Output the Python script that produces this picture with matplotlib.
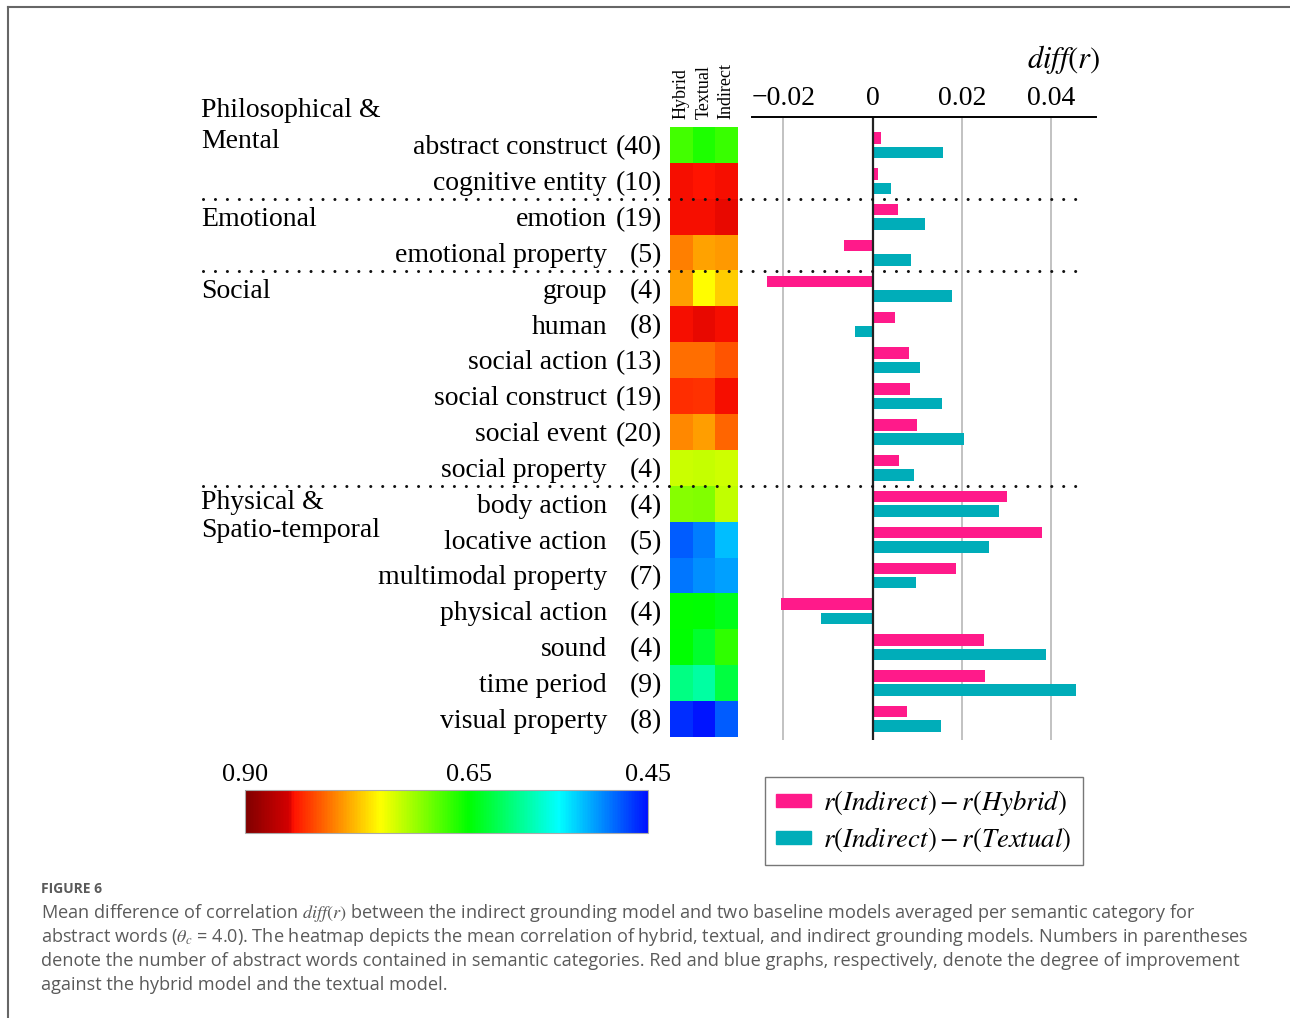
import matplotlib
matplotlib.use("Agg")
import matplotlib.pyplot as plt
import numpy as np
from matplotlib.colors import LinearSegmentedColormap, Normalize
from matplotlib.cm import ScalarMappable
from matplotlib.lines import Line2D
from matplotlib.patches import Patch
from matplotlib.transforms import blended_transform_factory

plt.rcParams['font.family'] = ['Liberation Serif', 'DejaVu Serif']
plt.rcParams['mathtext.fontset'] = 'stix'

# semantic categories (top to bottom) and word counts
categories = ["abstract construct", "cognitive entity", "emotion", "emotional property",
              "group", "human", "social action", "social construct", "social event",
              "social property", "body action", "locative action", "multimodal property",
              "physical action", "sound", "time period", "visual property"]
counts = [40, 10, 19, 5, 4, 8, 13, 19, 20, 4, 4, 5, 7, 4, 4, 9, 8]

# mean correlation per model
models = ["Hybrid", "Textual", "Indirect"]
r_hybrid = [0.676, 0.846, 0.847, 0.801, 0.788, 0.847, 0.808, 0.834, 0.798,
            0.728, 0.703, 0.483, 0.493, 0.652, 0.650, 0.599, 0.463]
r_textual = [0.661, 0.845, 0.846, 0.786, 0.749, 0.8475, 0.808, 0.832, 0.788,
             0.727, 0.700, 0.496, 0.503, 0.650, 0.632, 0.587, 0.453]
r_indirect = [0.672, 0.847, 0.849, 0.790, 0.769, 0.846, 0.818, 0.846, 0.811,
              0.731, 0.725, 0.523, 0.510, 0.640, 0.669, 0.625, 0.483]

# diff(r) of the indirect model against each baseline
diff_hybrid = [0.0019, 0.0013, 0.0057, -0.0063, -0.0236, 0.0051, 0.0082, 0.0083, 0.0100,
               0.0059, 0.0300, 0.0380, 0.0186, -0.0204, 0.0249, 0.0252, 0.0077]
diff_textual = [0.0157, 0.0042, 0.0118, 0.0086, 0.0177, -0.0039, 0.0106, 0.0155, 0.0204,
                0.0093, 0.0283, 0.0260, 0.0098, -0.0115, 0.0388, 0.0456, 0.0153]

# group name lines and the row each line sits next to (fractional rows)
group_lines = ["Philosophical &", "Mental", "Emotional", "Social", "Physical &", "Spatio-temporal"]
group_rows = [-0.98, -0.1, 2.07, 4.07, 9.97, 10.75]
separators = [1.5, 3.5, 9.5]

diff_ticks = [-0.02, 0.0, 0.02, 0.04]
cbar_ticks = [0.90, 0.65, 0.45]

PINK = "#ff1a8a"
TEAL = "#00adb9"

W, H = 1290, 1018
fig = plt.figure(figsize=(W / 100, H / 100), dpi=100)


def box(x0, y0, x1, y1):
    return [x0 / W, 1 - y1 / H, (x1 - x0) / W, (y1 - y0) / H]


# jet-like scale, dark red segment for the highest correlations
cmap = LinearSegmentedColormap.from_list("corr", [
    (0.000, "#0010ff"), (0.220, "#00ffff"), (0.445, "#00ff00"), (0.665, "#ffff00"),
    (0.880, "#ff1200"), (0.892, "#d40000"), (1.000, "#800000")])
norm = Normalize(vmin=0.45, vmax=0.90)

# heatmap
hy0, hy1 = 127.3, 736.8
ax_heat = fig.add_axes(box(670, hy0, 737.5, hy1))
heat = np.array([r_hybrid, r_textual, r_indirect]).T
ax_heat.imshow(heat, cmap=cmap, norm=norm, aspect="auto", interpolation="nearest")
ax_heat.set_axis_off()
for j, m in enumerate(models):
    ax_heat.text(j, -0.72, m, rotation=90, ha="center", va="bottom", fontsize=13)

row_h = (hy1 - hy0) / len(categories)
rows = np.arange(len(categories))
mix = blended_transform_factory(fig.transFigure, ax_heat.transData)

for i, (name, n) in enumerate(zip(categories, counts)):
    fig.text(607 / W, i + 0.07, name, transform=mix, ha="right", va="center", fontsize=20)
    fig.text(662 / W, i + 0.07, f"({n})", transform=mix, ha="right", va="center", fontsize=20)
for line, r in zip(group_lines, group_rows):
    fig.text(201 / W, r, line, transform=mix, ha="left", va="center", fontsize=20)
for s in separators:
    fig.add_artist(Line2D([203 / W, 1079 / W], [s, s], transform=mix, color="#111111",
                          lw=2.2, linestyle=(0, (0.01, 3.9)), dash_capstyle="round"))

# diff(r) bars
by0, by1 = 117, 740
ax_bar = fig.add_axes(box(752, by0, 1096, by1))
ax_bar.barh(rows - 0.2, diff_hybrid, height=0.32, color=PINK)
ax_bar.barh(rows + 0.2, diff_textual, height=0.32, color=TEAL)
ax_bar.set_xlim(-0.027, 0.050)
ax_bar.set_ylim((by1 - hy0) / row_h - 0.5, (by0 - hy0) / row_h - 0.5)
ax_bar.set_xticks(diff_ticks)
ax_bar.set_xticklabels(["0" if t == 0 else f"{t:.2f}".replace("-", "\u2212") for t in diff_ticks])
ax_bar.xaxis.tick_top()
ax_bar.tick_params(axis="x", length=0, pad=4, labelsize=20)
ax_bar.set_yticks([])
ax_bar.grid(axis="x", color="#bdbdbd", lw=1.3)
ax_bar.set_axisbelow(True)
ax_bar.axvline(0, color="#222222", lw=1.6)
for side in ["left", "right", "bottom"]:
    ax_bar.spines[side].set_visible(False)
ax_bar.spines["top"].set_linewidth(1.4)
fig.text(1100 / W, 1 - 60 / H, r"$\mathit{diff}(r)$", ha="right", va="center", fontsize=22)

# colour scale
cax = fig.add_axes(box(245, 790, 648, 833))
cb = fig.colorbar(ScalarMappable(norm=norm, cmap=cmap), cax=cax, orientation="horizontal")
cax.invert_xaxis()
cax.xaxis.set_ticks_position("top")
cb.set_ticks(cbar_ticks)
cb.set_ticklabels([f"{t:.2f}" for t in cbar_ticks])
cax.tick_params(length=0, pad=3, labelsize=19)
cb.outline.set_edgecolor("#aaaaaa")
cb.outline.set_linewidth(0.8)

# legend
handles = [Patch(color=PINK), Patch(color=TEAL)]
labels = [r"$r(\mathit{Indirect}) - r(\mathit{Hybrid})$",
          r"$r(\mathit{Indirect}) - r(\mathit{Textual})$"]
leg = fig.legend(handles, labels, loc="upper left", bbox_to_anchor=(765 / W, 1 - 777 / H),
                 fontsize=19.3, frameon=True, fancybox=False, edgecolor="#555555",
                 handlelength=1.3, handleheight=0.35, handletextpad=0.45,
                 borderpad=0.42, labelspacing=0.25, borderaxespad=0)
leg.get_frame().set_linewidth(1.0)

# page frame
fig.add_artist(Line2D([8 / W, 8 / W], [0, 1 - 7 / H], color="#666666", lw=1.5))
fig.add_artist(Line2D([8 / W, 1], [1 - 7 / H, 1 - 7 / H], color="#666666", lw=1.5))

# caption
cap_color = "#5a5a5a"
fig.text(41 / W, 1 - 889 / H, "FIGURE 6", fontfamily="Open Sans", fontweight="bold",
         fontsize=10, color=cap_color, va="center")
caption = [
    r"Mean difference of correlation $\mathit{diff}(r)$ between the indirect grounding model and two baseline models averaged per semantic category for",
    r"abstract words ($\theta_c$ = 4.0). The heatmap depicts the mean correlation of hybrid, textual, and indirect grounding models. Numbers in parentheses",
    "denote the number of abstract words contained in semantic categories. Red and blue graphs, respectively, denote the degree of improvement",
    "against the hybrid model and the textual model.",
]
for k, line in enumerate(caption):
    fig.text(41 / W, 1 - (913 + 24 * k) / H, line, fontfamily="Open Sans", fontsize=13.1,
             color=cap_color, va="center")

fig.savefig("out.png", dpi=100)
